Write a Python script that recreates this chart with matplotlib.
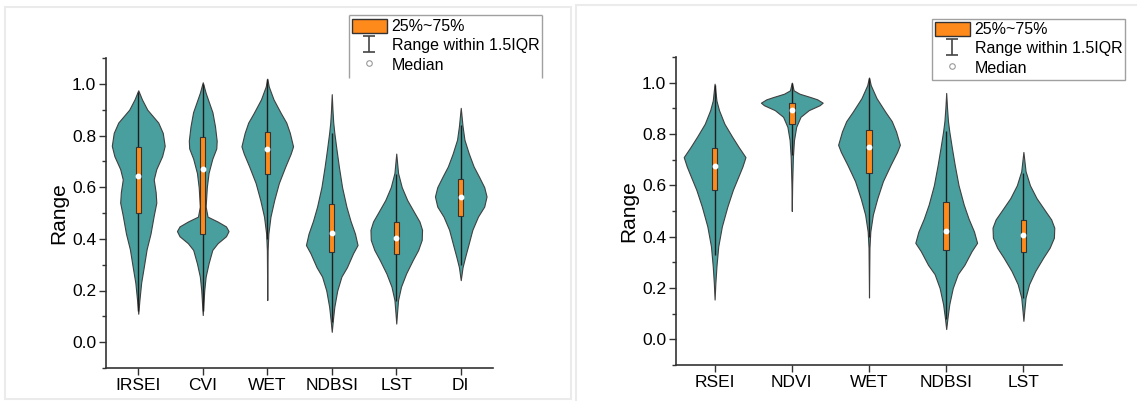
import matplotlib
matplotlib.use('Agg')
import matplotlib.pyplot as plt
import numpy as np
from matplotlib.patches import Rectangle, Patch
from matplotlib.lines import Line2D

plt.rcParams['font.family'] = ['Liberation Sans', 'DejaVu Sans']

# ---------------- data ----------------
left_categories = ['IRSEI', 'CVI', 'WET', 'NDBSI', 'LST', 'DI']
right_categories = ['RSEI', 'NDVI', 'WET', 'NDBSI', 'LST']

# violin outlines: value levels and half widths (category units)
irsei_y = [0.11, 0.16, 0.23, 0.29, 0.36, 0.42, 0.49, 0.54, 0.58, 0.63, 0.67, 0.72, 0.76, 0.81, 0.85, 0.90, 0.94, 0.975]
irsei_w = [0.00, 0.017, 0.045, 0.085, 0.13, 0.19, 0.24, 0.28, 0.27, 0.24, 0.28, 0.37, 0.41, 0.38, 0.31, 0.14, 0.057, 0.00]

cvi_y = [0.105, 0.20, 0.254, 0.305, 0.357, 0.383, 0.41, 0.43, 0.448, 0.467, 0.486, 0.525, 0.60, 0.655, 0.71, 0.75, 0.78, 0.835, 0.89, 0.94, 0.965, 1.006]
cvi_w = [0.00, 0.023, 0.045, 0.09, 0.148, 0.23, 0.36, 0.40, 0.36, 0.23, 0.074, 0.045, 0.063, 0.09, 0.148, 0.21, 0.216, 0.19, 0.15, 0.08, 0.045, 0.00]

wet_y = [0.163, 0.357, 0.42, 0.486, 0.55, 0.616, 0.68, 0.73, 0.758, 0.81, 0.85, 0.887, 0.94, 0.99, 1.02]
wet_w = [0.00, 0.006, 0.017, 0.05, 0.108, 0.18, 0.28, 0.364, 0.40, 0.35, 0.295, 0.21, 0.097, 0.023, 0.00]

ndbsi_y = [0.04, 0.085, 0.137, 0.20, 0.254, 0.29, 0.344, 0.376, 0.42, 0.47, 0.525, 0.60, 0.68, 0.745, 0.81, 0.85, 0.90, 0.96]
ndbsi_w = [0.00, 0.017, 0.04, 0.085, 0.15, 0.235, 0.33, 0.40, 0.36, 0.29, 0.227, 0.16, 0.11, 0.074, 0.04, 0.023, 0.011, 0.00]

lst_y = [0.072, 0.11, 0.163, 0.215, 0.266, 0.318, 0.357, 0.396, 0.435, 0.467, 0.50, 0.55, 0.60, 0.655, 0.73]
lst_w = [0.00, 0.011, 0.028, 0.074, 0.153, 0.256, 0.34, 0.395, 0.40, 0.36, 0.284, 0.17, 0.085, 0.028, 0.00]

di_y = [0.24, 0.29, 0.33, 0.383, 0.435, 0.486, 0.525, 0.564, 0.60, 0.64, 0.68, 0.73, 0.784, 0.836, 0.907]
di_w = [0.00, 0.028, 0.068, 0.125, 0.18, 0.267, 0.364, 0.40, 0.364, 0.284, 0.20, 0.125, 0.057, 0.028, 0.00]

rsei_y = [0.155, 0.22, 0.285, 0.362, 0.44, 0.517, 0.582, 0.634, 0.673, 0.71, 0.75, 0.79, 0.84, 0.893, 0.93, 0.996]
rsei_w = [0.00, 0.01, 0.024, 0.047, 0.094, 0.165, 0.236, 0.307, 0.36, 0.40, 0.31, 0.226, 0.127, 0.057, 0.024, 0.00]

ndvi_y = [0.50, 0.608, 0.71, 0.776, 0.828, 0.867, 0.893, 0.912, 0.922, 0.935, 0.944, 0.957, 0.97, 1.0]
ndvi_w = [0.00, 0.005, 0.014, 0.028, 0.057, 0.113, 0.22, 0.36, 0.40, 0.33, 0.24, 0.10, 0.024, 0.00]

# box statistics: [q1, median, q3, whisker low, whisker high]
irsei_stats = [0.50, 0.645, 0.755, 0.12, 0.97]
cvi_stats = [0.42, 0.67, 0.793, 0.12, 1.00]
wet_stats = [0.65, 0.748, 0.815, 0.40, 1.02]
ndbsi_stats = [0.35, 0.424, 0.535, 0.08, 0.81]
lst_stats = [0.34, 0.405, 0.465, 0.16, 0.65]
di_stats = [0.49, 0.561, 0.63, 0.30, 0.84]
rsei_stats = [0.58, 0.674, 0.745, 0.33, 0.99]
ndvi_stats = [0.84, 0.893, 0.92, 0.72, 1.00]

profiles = {
    'IRSEI': (irsei_y, irsei_w, irsei_stats),
    'CVI': (cvi_y, cvi_w, cvi_stats),
    'WET': (wet_y, wet_w, wet_stats),
    'NDBSI': (ndbsi_y, ndbsi_w, ndbsi_stats),
    'LST': (lst_y, lst_w, lst_stats),
    'DI': (di_y, di_w, di_stats),
    'RSEI': (rsei_y, rsei_w, rsei_stats),
    'NDVI': (ndvi_y, ndvi_w, ndvi_stats),
}

# ---------------- style ----------------
TEAL = '#499e9e'
EDGE = '#404040'
ORANGE = '#ff8a1c'
W, H = 1137, 401

fig = plt.figure(figsize=(W / 100, H / 100), dpi=100)


def px_rect(x0, y0, x1, y1):
    return [x0 / W, 1 - y1 / H, (x1 - x0) / W, (y1 - y0) / H]


def fig_line(xa, ya, xb, yb, color, lw):
    fig.add_artist(Line2D([xa / W, xb / W], [1 - ya / H, 1 - yb / H], transform=fig.transFigure,
                          color=color, lw=lw, solid_capstyle='butt'))


# panel frames
fig.add_artist(Rectangle((5 / W, 1 - 399 / H), 566 / W, 392 / H, transform=fig.transFigure,
                         fill=False, edgecolor='#ebebeb', lw=1.5))
fig.add_artist(Rectangle((576 / W, -0.02), 0.52, 1 - 5 / H + 0.02, transform=fig.transFigure,
                         fill=False, edgecolor='#ebebeb', lw=1.5))

ax1 = fig.add_axes(px_rect(106, 58, 493, 368))
ax2 = fig.add_axes(px_rect(676, 57, 1062, 365))


def draw(ax, cats):
    for i, name in enumerate(cats, start=1):
        y, w, st = profiles[name]
        y = np.array(y)
        w = np.array(w)
        ax.fill_betweenx(y, i - w, i + w, facecolor=TEAL, edgecolor=EDGE, lw=0.8, zorder=2)
        q1, med, q3, lo, hi = st
        ax.vlines(i, lo, hi, color='#1e1e1e', lw=1.0, zorder=3)
        ax.bar(i, q3 - q1, bottom=q1, width=0.07, color=ORANGE, edgecolor='#333333', lw=0.8, zorder=4)
        ax.plot(i, med, 'o', ms=3.2, mfc='white', mec='white', zorder=5)
    ax.set_xlim(0.5, len(cats) + 0.5)
    ax.set_ylim(-0.1, 1.1)
    ax.set_xticks(range(1, len(cats) + 1))
    ax.set_xticklabels(cats, fontsize=12.5)
    ax.set_yticks([0.0, 0.2, 0.4, 0.6, 0.8, 1.0])
    ax.set_yticklabels(['0.0', '0.2', '0.4', '0.6', '0.8', '1.0'], fontsize=12.5)
    ax.set_yticks(np.arange(-0.1, 1.11, 0.1), minor=True)
    ax.tick_params(axis='both', which='major', direction='out', length=5, width=1, color='#333', pad=2)
    ax.tick_params(axis='y', which='minor', direction='out', length=3, width=1, color='#333')
    ax.tick_params(axis='x', which='minor', bottom=False)
    for s in ['top', 'right']:
        ax.spines[s].set_visible(False)
    for s in ['left', 'bottom']:
        ax.spines[s].set_linewidth(1.2)
        ax.spines[s].set_color('#333')
    ax.set_ylabel('Range', fontsize=15, labelpad=3)


draw(ax1, left_categories)
draw(ax2, right_categories)

eb = ax1.errorbar([np.nan], [np.nan], yerr=[[0.1], [0.1]], fmt='none', ecolor='#444444',
                  capsize=4, elinewidth=1.2, capthick=1.2)
handles = [
    Patch(facecolor=ORANGE, edgecolor='#333333', lw=1.0),
    eb,
    Line2D([], [], ls='none', marker='o', ms=4, mfc='white', mec='#999999', mew=0.8),
]
labels = ['25%~75%', 'Range within 1.5IQR', 'Median']

common = dict(loc='upper left', bbox_transform=fig.transFigure, borderaxespad=0, borderpad=0.17,
              fontsize=11.5, handlelength=2.2, handleheight=1.0, handletextpad=0.3,
              labelspacing=0.22, frameon=False)

leg1 = ax1.legend(handles, labels, bbox_to_anchor=(349 / W, 1 - 16 / H), **common)
leg2 = ax2.legend(handles, labels, bbox_to_anchor=(932 / W, 1 - 19 / H), **common)

# legend frames (left one is cut at the bottom)
for (xa, ya, xb, yb) in [(349, 78, 349, 15), (349, 15, 542, 15), (542, 15, 542, 78)]:
    fig_line(xa, ya, xb, yb, '#a0a0a0', 1.0)
fig.add_artist(Rectangle((932 / W, 1 - 80 / H), 193 / W, 61 / H, transform=fig.transFigure,
                         fill=False, edgecolor='#a0a0a0', lw=1.0))

fig.savefig('out.png', dpi=100)
